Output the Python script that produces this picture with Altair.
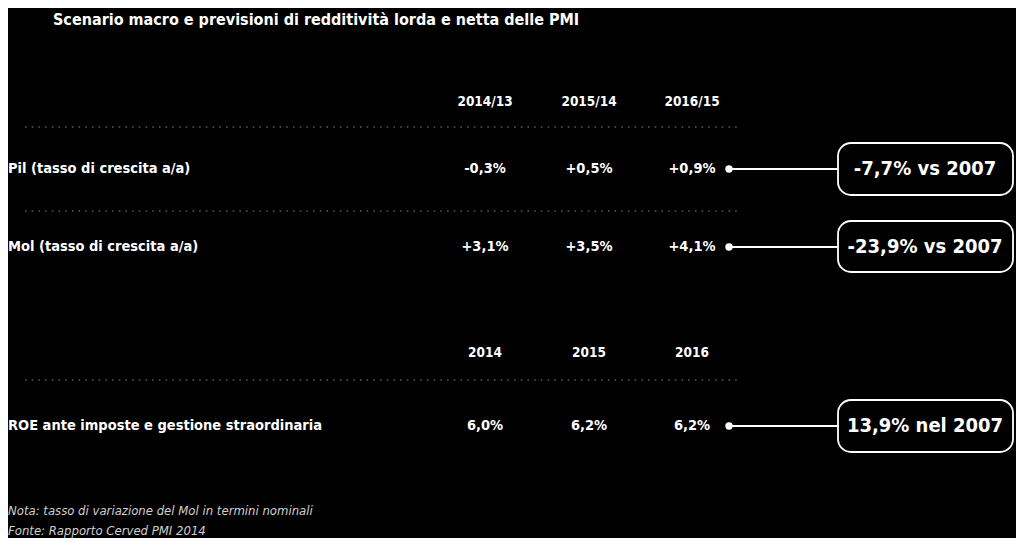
import altair as alt
import pandas as pd

# ---------------- data ----------------
title_text = ["Scenario macro e previsioni di redditività lorda e netta delle PMI"]
headers_growth = ["2014/13", "2015/14", "2016/15"]
headers_roe = ["2014", "2015", "2016"]
metrics = ["Pil (tasso di crescita a/a)", "Mol (tasso di crescita a/a)",
           "ROE ante imposte e gestione straordinaria"]
pil_values = ["-0,3%", "+0,5%", "+0,9%"]
mol_values = ["+3,1%", "+3,5%", "+4,1%"]
roe_values = ["6,0%", "6,2%", "6,2%"]
comparisons = ["-7,7% vs 2007", "-23,9% vs 2007", "13,9% nel 2007"]
notes = ["Nota: tasso di variazione del Mol in termini nominali",
         "Fonte: Rapporto Cerved PMI 2014"]

# ---------------- layout scales (slots -> pixel) ----------------
x_slots = ["label", "rule_start", "title", "c1", "c2", "c3", "dot", "rule_end",
           "box_l", "box_c", "box_r"]
x_range = [0, 17, 45, 477, 581, 684, 721, 732, 830, 917, 1005]
y_slots = ["title", "h1", "r1", "pil_top", "pil", "pil_bot", "r2", "mol_top", "mol",
           "mol_bot", "h2", "r3", "roe_top", "roe", "roe_bot", "note1", "note2"]
y_range = [12, 94, 119, 135, 161, 187, 203, 213, 239, 264, 345, 372, 392, 418, 444, 503, 523]
xi = {k: i for i, k in enumerate(x_slots)}
yi = {k: i for i, k in enumerate(y_slots)}

xscale = alt.Scale(domain=list(range(len(x_slots))), range=x_range, nice=False, zero=False)
yscale = alt.Scale(domain=list(range(len(y_slots))), range=y_range, nice=False, zero=False)

FONT = "DejaVu Sans Condensed, DejaVu Sans, sans-serif"

def df(rows):
    d = pd.DataFrame(rows)
    for c in ["x", "x2"]:
        if c in d:
            d[c] = d[c].map(xi)
    for c in ["y", "y2"]:
        if c in d:
            d[c] = d[c].map(yi)
    return d

X = alt.X("x:Q", scale=xscale, axis=None)
Y = alt.Y("y:Q", scale=yscale, axis=None)

# title
t_title = alt.Chart(df([{"x": "title", "y": "title", "t": title_text[0]}])).mark_text(
    font=FONT, fontWeight="bold", fontSize=16, color="white", align="left", baseline="middle"
).encode(x=X, y=Y, text="t:N")

# headers
hdr_rows = []
for c, h in zip(["c1", "c2", "c3"], headers_growth):
    hdr_rows.append({"x": c, "y": "h1", "t": h})
for c, h in zip(["c1", "c2", "c3"], headers_roe):
    hdr_rows.append({"x": c, "y": "h2", "t": h})
t_hdr = alt.Chart(df(hdr_rows)).mark_text(
    font=FONT, fontWeight="bold", fontSize=13.5, color="white", align="center", baseline="middle"
).encode(x=X, y=Y, text="t:N")

# row labels
row_keys = ["pil", "mol", "roe"]
lbl_rows = [{"x": "label", "y": r, "t": m} for r, m in zip(row_keys, metrics)]
t_lbl = alt.Chart(df(lbl_rows)).mark_text(
    font=FONT, fontWeight="bold", fontSize=14.5, color="white", align="left", baseline="middle"
).encode(x=X, y=Y, text="t:N")

# values
val_rows = []
for r, vals in zip(row_keys, [pil_values, mol_values, roe_values]):
    for c, v in zip(["c1", "c2", "c3"], vals):
        val_rows.append({"x": c, "y": r, "t": v})
t_val = alt.Chart(df(val_rows)).mark_text(
    font=FONT, fontWeight="bold", fontSize=14.5, color="white", align="center", baseline="middle"
).encode(x=X, y=Y, text="t:N")

# dotted rules
rule_rows = [{"x": "rule_start", "x2": "rule_end", "y": r} for r in ["r1", "r2", "r3"]]
dotted = alt.Chart(df(rule_rows)).mark_rule(
    color="#8a8a8a", strokeWidth=1, strokeDash=[1.5, 5.2]
).encode(x=X, x2="x2:Q", y=Y)

# connectors
con_rows = [{"x": "dot", "x2": "box_l", "y": r} for r in row_keys]
connectors = alt.Chart(df(con_rows)).mark_rule(color="white", strokeWidth=1.8).encode(
    x=X, x2="x2:Q", y=Y)
dots = alt.Chart(df([{"x": "dot", "y": r} for r in row_keys])).mark_point(
    filled=True, color="white", size=55, opacity=1
).encode(x=X, y=Y)

# boxes
box_rows = [{"x": "box_l", "x2": "box_r", "y": r + "_top", "y2": r + "_bot"} for r in row_keys]
boxes = alt.Chart(df(box_rows)).mark_rect(
    fill="black", stroke="white", strokeWidth=1.8, cornerRadius=13
).encode(x=X, x2="x2:Q", y=Y, y2="y2:Q")

cmp_rows = [{"x": "box_c", "y": r, "t": t} for r, t in zip(row_keys, comparisons)]
t_cmp = alt.Chart(df(cmp_rows)).mark_text(
    font=FONT, fontWeight="bold", fontSize=20, color="white", align="center", baseline="middle"
).encode(x=X, y=Y, text="t:N")

# notes
note_rows = [{"x": "label", "y": k, "t": n} for k, n in zip(["note1", "note2"], notes)]
t_note = alt.Chart(df(note_rows)).mark_text(
    font=FONT, fontStyle="italic", fontSize=13, color="#cfcfcf", align="left", baseline="middle"
).encode(x=X, y=Y, text="t:N")

chart = alt.layer(
    dotted, connectors, dots, boxes, t_title, t_hdr, t_lbl, t_val, t_cmp, t_note
).properties(
    width=1008, height=530,
    autosize=alt.AutoSizeParams(type="fit", contains="padding"),
    padding=0,
).configure(background="black").configure_view(strokeWidth=0)

chart.save("out.html", embed_options={"renderer": "svg", "actions": False})
